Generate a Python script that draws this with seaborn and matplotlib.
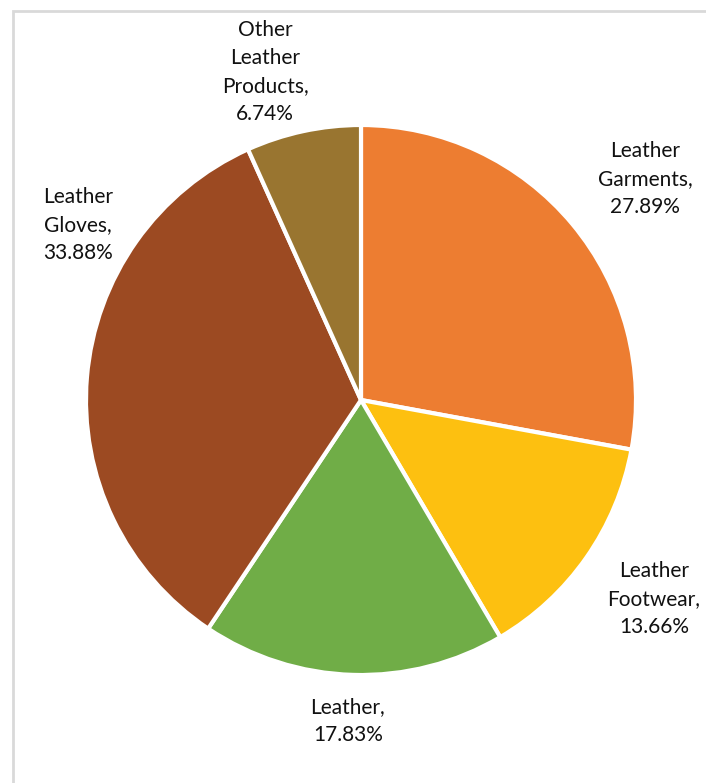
import matplotlib
matplotlib.use("Agg")
import matplotlib.pyplot as plt
from matplotlib.patches import Rectangle
import seaborn as sns

# Share of leather product categories
categories = ["Leather Garments", "Leather Footwear", "Leather", "Leather Gloves", "Other Leather Products"]
shares = [27.89, 13.66, 17.83, 33.88, 6.74]
label_lines = ["Leather\nGarments,", "Leather\nFootwear,", "Leather,", "Leather\nGloves,", "Other\nLeather\nProducts,"]
colors = ["#ED7D31", "#FDC010", "#70AD47", "#9C4A22", "#997530"]

sns.set_theme(style="white")
plt.rcParams["font.family"] = ["Lato", "DejaVu Sans"]

W, H = 706, 783
fig = plt.figure(figsize=(W / 100, H / 100), dpi=100)
ax = fig.add_axes([0, 0, 1, 1])

cx, cy, r = 361, H - 400, 275
ax.pie(shares, colors=colors, startangle=90, counterclock=False,
       center=(cx, cy), radius=r,
       wedgeprops=dict(edgecolor="white", linewidth=3))

ax.set_xlim(0, W)
ax.set_ylim(0, H)
ax.set_aspect("equal")
ax.axis("off")

# label anchor points (pixel positions from the top-left)
label_pos = [(645, 179), (654, 599), (348, 721), (78, 225), (265, 72)]
for text, val, (x, y) in zip(label_lines, shares, label_pos):
    ax.text(x, H - y, f"{text}\n{val:.2f}%", ha="center", va="center",
            fontsize=15, color="#111111", linespacing=1.5)

# light chart-area border
fig.patches.append(Rectangle((13 / W, -0.1), 1.2, (H - 11) / H + 0.1,
                             transform=fig.transFigure, fill=False,
                             edgecolor="#D9D9D9", linewidth=2))

fig.savefig("out.png", dpi=100)
